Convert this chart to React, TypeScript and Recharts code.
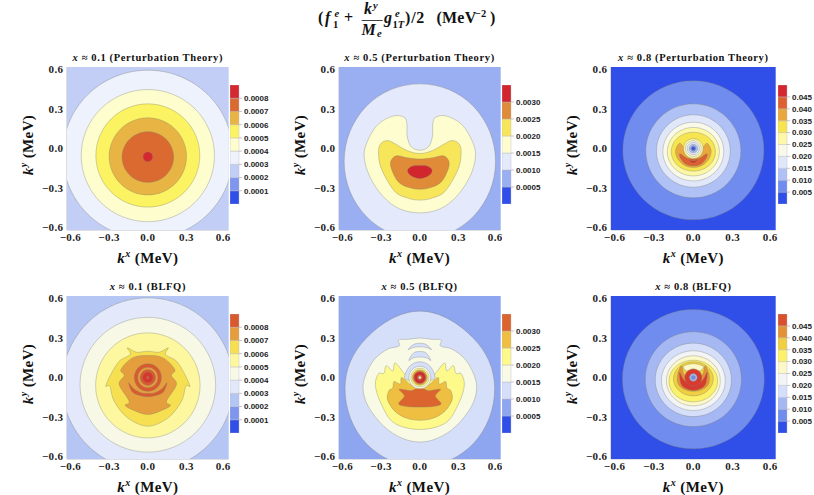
import { Bar, BarChart, Scatter, ScatterChart, XAxis, YAxis } from "recharts";

type Pt = [number, number];
type Contour = [number, Pt[]];

const axisTicks = [-0.6, -0.3, 0, 0.3, 0.6];
const xEdge = 0.627;
const yEdge = 0.619;
const serif = "'Liberation Serif', serif";

// band colours, low to high (an extra last colour is the unresolved core)
const fillsPt01 = ["#2f4fe8", "#7f96ee", "#c2cef6", "#eef2fc", "#fdfdcd", "#fcf362", "#e8b545", "#db6a30", "#d4272f"];
const fillsPt05 = ["#2f4fe8", "#9aaff2", "#e4eafb", "#fdfdcf", "#f7e65a", "#e08b38", "#d2262e"];
const fillsPt08 = ["#2f4fe8", "#708cee", "#afc1f5", "#e0e7fb", "#f8f9e8", "#fdf8a8", "#f7e550", "#e8a83c", "#dc6030", "#d4272f"];
const fillsBl01 = ["#2f4fe8", "#7f96ee", "#b5c5f4", "#e3e9fb", "#f7f9e6", "#fdf8a0", "#f6e052", "#e59e3d", "#d95a2e", "#d8352e"];
const fillsBl05 = ["#2f4fe8", "#8ea5f0", "#d6dffa", "#f8fae6", "#fdf98a", "#eebf40", "#dc652f", "#d4272f"];
const fillsBl08 = ["#2f4fe8", "#708cee", "#a5b8f3", "#d5dffa", "#f2f4f5", "#fcf8c8", "#fbf26a", "#f0d040", "#e39336", "#d8502e", "#d93a2e"];

const levels01 = [0.0001, 0.0002, 0.0003, 0.0004, 0.0005, 0.0006, 0.0007, 0.0008];
const levels05 = [0.0005, 0.001, 0.0015, 0.002, 0.0025, 0.003];
const levels08 = [0.005, 0.01, 0.015, 0.02, 0.025, 0.03, 0.035, 0.04, 0.045];

const cornersSmall: Pt[][] = [
  [[-0.7, 0.7], [-0.565, 0.7], [-0.7, 0.575]],
  [[0.7, 0.7], [0.565, 0.7], [0.7, 0.575]],
];
const cornersTiny: Pt[][] = [
  [[-0.7, 0.7], [-0.59, 0.7], [-0.7, 0.59]],
  [[0.7, 0.7], [0.59, 0.7], [0.7, 0.59]],
];

const contoursPt01: Contour[] = [
  [3, [[0, 0.595], [0.467, 0.408], [0.66, -0.045], [0.467, -0.498], [0, -0.685], [-0.467, -0.498], [-0.66, -0.045], [-0.467, 0.408]]],
  [4, [[0, 0.448], [0.366, 0.301], [0.517, -0.054], [0.366, -0.409], [0, -0.556], [-0.366, -0.409], [-0.517, -0.054], [-0.366, 0.301]]],
  [5, [[0, 0.339], [0.285, 0.224], [0.403, -0.053], [0.285, -0.33], [0, -0.445], [-0.285, -0.33], [-0.403, -0.053], [-0.285, 0.224]]],
  [6, [[0, 0.233], [0.212, 0.147], [0.3, -0.06], [0.212, -0.267], [0, -0.353], [-0.212, -0.267], [-0.3, -0.06], [-0.212, 0.147]]],
  [7, [[0, 0.127], [0.141, 0.071], [0.2, -0.065], [0.141, -0.201], [0, -0.257], [-0.141, -0.201], [-0.2, -0.065], [-0.141, 0.071]]],
  [8, [[0, -0.026], [0.026, -0.037], [0.037, -0.063], [0.026, -0.089], [0, -0.1], [-0.026, -0.089], [-0.037, -0.063], [-0.026, -0.037]]],
];

const contoursPt05: Contour[] = [
  [2, [[0, 0.491], [0.415, 0.321], [0.587, -0.099], [0.415, -0.516], [0, -0.689], [-0.415, -0.516], [-0.587, -0.099], [-0.415, 0.321]]],
  [3, [[0, -0.013], [0.067, 0.013], [0.098, 0.094], [0.101, 0.195], [0.127, 0.24], [0.209, 0.246], [0.326, 0.182], [0.406, 0.056], [0.432, -0.058], [0.39, -0.21], [0.287, -0.362], [0.158, -0.458], [0, -0.489], [-0.158, -0.458], [-0.287, -0.362], [-0.39, -0.21], [-0.432, -0.058], [-0.406, 0.056], [-0.326, 0.182], [-0.209, 0.246], [-0.127, 0.24], [-0.101, 0.195], [-0.098, 0.094], [-0.067, 0.013]]],
  [4, [[0, -0.038], [0.1, -0.015], [0.2, 0.04], [0.25, 0.06], [0.3, 0.04], [0.32, -0.02], [0.3, -0.15], [0.2, -0.32], [0.1, -0.375], [0, -0.392], [-0.1, -0.375], [-0.2, -0.32], [-0.3, -0.15], [-0.32, -0.02], [-0.3, 0.04], [-0.25, 0.06], [-0.2, 0.04], [-0.1, -0.015]]],
  [5, [[0, -0.08], [0.1, -0.07], [0.18, -0.055], [0.222, -0.09], [0.222, -0.15], [0.17, -0.25], [0.09, -0.295], [0, -0.31], [-0.09, -0.295], [-0.17, -0.25], [-0.222, -0.15], [-0.222, -0.09], [-0.18, -0.055], [-0.1, -0.07]]],
  [6, [[0, -0.13], [0.06, -0.135], [0.095, -0.165], [0.07, -0.205], [0, -0.228], [-0.07, -0.205], [-0.095, -0.165], [-0.06, -0.135]]],
];

const contoursPt08: Contour[] = [
  [1, [[0, 0.514], [0.38, 0.359], [0.537, -0.014], [0.38, -0.387], [0, -0.542], [-0.38, -0.387], [-0.537, -0.014], [-0.38, 0.359]]],
  [2, [[0, 0.339], [0.256, 0.234], [0.362, -0.018], [0.256, -0.27], [0, -0.375], [-0.256, -0.27], [-0.362, -0.018], [-0.256, 0.234]]],
  [3, [[0, 0.256], [0.199, 0.175], [0.281, -0.019], [0.199, -0.213], [0, -0.294], [-0.199, -0.213], [-0.281, -0.019], [-0.199, 0.175]]],
  [4, [[0, 0.2], [0.164, 0.135], [0.232, -0.023], [0.164, -0.181], [0, -0.246], [-0.164, -0.181], [-0.232, -0.023], [-0.164, 0.135]]],
  [5, [[0, 0.16], [0.14, 0.106], [0.198, -0.024], [0.14, -0.154], [0, -0.208], [-0.14, -0.154], [-0.198, -0.024], [-0.14, 0.106]]],
  [6, [[0, 0.124], [0.119, 0.081], [0.168, -0.024], [0.119, -0.129], [0, -0.172], [-0.119, -0.129], [-0.168, -0.024], [-0.119, 0.081]]],
  [7, [[0.105, 0.04], [0.135, -0.013], [0.12, -0.076], [0.069, -0.127], [0, -0.144], [-0.069, -0.127], [-0.12, -0.076], [-0.135, -0.013], [-0.105, 0.04], [-0.075, 0.01], [-0.059, -0.013], [-0.033, -0.043], [0, -0.053], [0.033, -0.043], [0.059, -0.013], [0.075, 0.01]]],
  [8, [[0.102, -0.04], [0.1, -0.07], [0.06, -0.118], [0, -0.132], [-0.06, -0.118], [-0.1, -0.07], [-0.102, -0.04], [-0.05, -0.072], [0, -0.08], [0.05, -0.072]]],
  [9, [[0.03, -0.09], [0, -0.108], [-0.03, -0.09], [0, -0.095]]],
  [5, [[0, 0.075], [0.053, 0.053], [0.075, 0], [0.053, -0.053], [0, -0.075], [-0.053, -0.053], [-0.075, 0], [-0.053, 0.053]]],
  [4, [[0, 0.06], [0.042, 0.042], [0.06, 0], [0.042, -0.042], [0, -0.06], [-0.042, -0.042], [-0.06, 0], [-0.042, 0.042]]],
  [3, [[0, 0.047], [0.033, 0.033], [0.047, 0], [0.033, -0.033], [0, -0.047], [-0.033, -0.033], [-0.047, 0], [-0.033, 0.033]]],
  [2, [[0, 0.033], [0.023, 0.023], [0.033, 0], [0.023, -0.023], [0, -0.033], [-0.023, -0.023], [-0.033, 0], [-0.023, 0.023]]],
  [1, [[0, 0.02], [0.02, 0], [0, -0.02], [-0.02, 0]]],
  [0, [[0, 0.012], [0.012, 0], [0, -0.012], [-0.012, 0]]],
];

const contoursBl01: Contour[] = [
  [3, [[0, 0.605], [0.47, 0.413], [0.665, -0.05], [0.47, -0.513], [0, -0.705], [-0.47, -0.513], [-0.665, -0.05], [-0.47, 0.413]]],
  [4, [[0, 0.457], [0.372, 0.307], [0.526, -0.055], [0.372, -0.417], [0, -0.567], [-0.372, -0.417], [-0.526, -0.055], [-0.372, 0.307]]],
  [5, [[0, 0.339], [0.286, 0.222], [0.405, -0.06], [0.286, -0.342], [0, -0.459], [-0.286, -0.342], [-0.405, -0.06], [-0.286, 0.222]]],
  [6, [[0, 0.2], [0.088, 0.192], [0.158, 0.225], [0.137, 0.175], [0.222, 0.124], [0.287, 0.023], [0.326, -0.066], [0.295, -0.066], [0.261, -0.18], [0.158, -0.306], [0, -0.37], [-0.158, -0.306], [-0.261, -0.18], [-0.295, -0.066], [-0.326, -0.066], [-0.287, 0.023], [-0.222, 0.124], [-0.137, 0.175], [-0.158, 0.225], [-0.088, 0.192]]],
  [7, [[0, 0.167], [0.119, 0.149], [0.209, 0.061], [0.183, 0.015], [0.222, -0.053], [0.145, -0.18], [0.176, -0.213], [0.093, -0.256], [0, -0.281], [-0.093, -0.256], [-0.176, -0.213], [-0.145, -0.18], [-0.222, -0.053], [-0.183, 0.015], [-0.209, 0.061], [-0.119, 0.149]]],
  [8, [[0, 0.105], [0.074, 0.074], [0.105, 0], [0.074, -0.074], [0, -0.105], [-0.074, -0.074], [-0.105, 0], [-0.074, 0.074]]],
  [8, [[0.149, -0.04], [0.12, -0.11], [0.06, -0.137], [0, -0.146], [-0.06, -0.137], [-0.12, -0.11], [-0.149, -0.04], [-0.11, -0.085], [-0.055, -0.115], [0, -0.122], [0.055, -0.115], [0.11, -0.085]]],
  [7, [[0, 0.078], [0.055, 0.055], [0.078, 0], [0.055, -0.055], [0, -0.078], [-0.055, -0.055], [-0.078, 0], [-0.055, 0.055]]],
  [8, [[0, 0.06], [0.042, 0.042], [0.06, 0], [0.042, -0.042], [0, -0.06], [-0.042, -0.042], [-0.06, 0], [-0.042, 0.042]]],
  [9, [[0, 0.04], [0.028, 0.028], [0.04, 0], [0.028, -0.028], [0, -0.04], [-0.028, -0.028], [-0.04, 0], [-0.028, 0.028]]],
  [8, [[0, 0.012], [0.012, 0], [0, -0.012], [-0.012, 0]]],
];

const contoursBl05: Contour[] = [
  [2, [[0, 0.504], [0.414, 0.3], [0.58, -0.086], [0.414, -0.503], [0, -0.676], [-0.414, -0.503], [-0.58, -0.086], [-0.414, 0.3]]],
  [3, [[0, 0.3], [0.09, 0.29], [0.165, 0.285], [0.16, 0.24], [0.25, 0.215], [0.35, 0.14], [0.42, 0.02], [0.44, -0.09], [0.4, -0.22], [0.28, -0.37], [0.14, -0.46], [0, -0.49], [-0.14, -0.46], [-0.28, -0.37], [-0.4, -0.22], [-0.44, -0.09], [-0.42, 0.02], [-0.35, 0.14], [-0.25, 0.215], [-0.16, 0.24], [-0.165, 0.285], [-0.09, 0.29]]],
  [2, [[-0.09, 0.212], [-0.05, 0.25], [0, 0.26], [0.05, 0.25], [0.09, 0.212], [0.05, 0.228], [0, 0.233], [-0.05, 0.228]]],
  [2, [[-0.085, 0.13], [-0.05, 0.185], [0, 0.197], [0.05, 0.185], [0.085, 0.13], [0.05, 0.15], [0, 0.155], [-0.05, 0.15]]],
  [4, [[0, -0.02], [0.09, 0.02], [0.12, 0.03], [0.19, 0.11], [0.21, 0.05], [0.26, 0.09], [0.28, 0.03], [0.32, 0.03], [0.345, -0.06], [0.3, -0.2], [0.2, -0.345], [0, -0.395], [-0.2, -0.345], [-0.3, -0.2], [-0.345, -0.06], [-0.32, 0.03], [-0.28, 0.03], [-0.26, 0.09], [-0.21, 0.05], [-0.19, 0.11], [-0.12, 0.03], [-0.09, 0.02]]],
  [5, [[0, -0.03], [0.06, -0.06], [0.14, 0], [0.15, -0.05], [0.2, -0.03], [0.21, -0.08], [0.24, -0.1], [0.25, -0.17], [0.19, -0.26], [0.1, -0.31], [0, -0.325], [-0.1, -0.31], [-0.19, -0.26], [-0.25, -0.17], [-0.24, -0.1], [-0.21, -0.08], [-0.2, -0.03], [-0.15, -0.05], [-0.14, 0], [-0.06, -0.06]]],
  [6, [[0, -0.08], [0.04, -0.09], [0.07, -0.1], [0.16, -0.09], [0.12, -0.14], [0.165, -0.2], [0.1, -0.22], [0, -0.225], [-0.1, -0.22], [-0.165, -0.2], [-0.12, -0.14], [-0.16, -0.09], [-0.07, -0.1], [-0.04, -0.09]]],
  [2, [[-0.115, -0.01], [-0.08, 0.085], [0, 0.12], [0.08, 0.085], [0.115, -0.01], [0, -0.02]]],
  [3, [[0, 0.085], [0.06, 0.06], [0.085, 0], [0.06, -0.06], [0, -0.085], [-0.06, -0.06], [-0.085, 0], [-0.06, 0.06]]],
  [4, [[0, 0.07], [0.05, 0.05], [0.07, 0], [0.05, -0.05], [0, -0.07], [-0.05, -0.05], [-0.07, 0], [-0.05, 0.05]]],
  [5, [[0, 0.058], [0.041, 0.041], [0.058, 0], [0.041, -0.041], [0, -0.058], [-0.041, -0.041], [-0.058, 0], [-0.041, 0.041]]],
  [6, [[0, 0.05], [0.035, 0.035], [0.05, 0], [0.035, -0.035], [0, -0.05], [-0.035, -0.035], [-0.05, 0], [-0.035, 0.035]]],
  [7, [[0, 0.042], [0.03, 0.03], [0.042, 0], [0.03, -0.03], [0, -0.042], [-0.03, -0.03], [-0.042, 0], [-0.03, 0.03]]],
  [6, [[0, 0.02], [0.02, 0], [0, -0.02], [-0.02, 0]]],
  [3, [[0, 0.01], [0.01, 0], [0, -0.01], [-0.01, 0]]],
];

const contoursBl08: Contour[] = [
  [1, [[0, 0.516], [0.382, 0.361], [0.54, -0.013], [0.382, -0.387], [0, -0.542], [-0.382, -0.387], [-0.54, -0.013], [-0.382, 0.361]]],
  [2, [[0, 0.347], [0.259, 0.242], [0.366, -0.013], [0.259, -0.268], [0, -0.373], [-0.259, -0.268], [-0.366, -0.013], [-0.259, 0.242]]],
  [3, [[0, 0.261], [0.205, 0.179], [0.29, -0.018], [0.205, -0.215], [0, -0.297], [-0.205, -0.215], [-0.29, -0.018], [-0.205, 0.179]]],
  [4, [[0, 0.203], [0.172, 0.136], [0.243, -0.024], [0.172, -0.184], [0, -0.251], [-0.172, -0.184], [-0.243, -0.024], [-0.172, 0.136]]],
  [5, [[0, 0.165], [0.145, 0.109], [0.205, -0.025], [0.145, -0.159], [0, -0.215], [-0.145, -0.159], [-0.205, -0.025], [-0.145, 0.109]]],
  [6, [[0, 0.131], [0.131, 0.085], [0.185, -0.027], [0.131, -0.139], [0, -0.185], [-0.131, -0.139], [-0.185, -0.027], [-0.131, 0.085]]],
  [7, [[0, 0.12], [0.107, 0.082], [0.152, -0.01], [0.107, -0.102], [0, -0.14], [-0.107, -0.102], [-0.152, -0.01], [-0.107, 0.082]]],
  [5, [[-0.075, 0.085], [0, 0.105], [0.075, 0.085], [0.05, 0.05], [0, 0.065], [-0.05, 0.05]]],
  [8, [[0.09, 0.09], [0.12, 0.02], [0.115, -0.05], [0.07, -0.09], [0, -0.105], [-0.07, -0.09], [-0.115, -0.05], [-0.12, 0.02], [-0.09, 0.09], [-0.075, 0.03], [-0.05, 0], [0, -0.02], [0.05, 0], [0.075, 0.03]]],
  [10, [[0.105, 0.04], [0.095, -0.045], [0.06, -0.082], [0, -0.098], [-0.06, -0.082], [-0.095, -0.045], [-0.105, 0.04], [-0.07, -0.02], [0, -0.06], [0.07, -0.02]]],
  [10, [[0, 0.065], [0.046, 0.046], [0.065, 0], [0.046, -0.046], [0, -0.065], [-0.046, -0.046], [-0.065, 0], [-0.046, 0.046]]],
  [2, [[0, 0.03], [0.021, 0.021], [0.03, 0], [0.021, -0.021], [0, -0.03], [-0.021, -0.021], [-0.03, 0], [-0.021, 0.021]]],
  [1, [[0, 0.015], [0.015, 0], [0, -0.015], [-0.015, 0]]],
];

const baseSquare: Pt[] = [[-0.7, -0.7], [0.7, -0.7], [0.7, 0.7], [-0.7, 0.7]];

// closed Catmull-Rom through the contour points, rounder handles when there are few points
function smoothPath(points: { x: number; y: number }[]) {
  const n = points.length;
  const k = n === 4 ? 3.6 : n === 8 ? 5.33 : 6;
  let d = `M${points[0].x},${points[0].y}`;
  for (let i = 0; i < n; i++) {
    const p0 = points[(i - 1 + n) % n];
    const p1 = points[i];
    const p2 = points[(i + 1) % n];
    const p3 = points[(i + 2) % n];
    d += `C${p1.x + (p2.x - p0.x) / k},${p1.y + (p2.y - p0.y) / k} ${p2.x - (p3.x - p1.x) / k},${p2.y - (p3.y - p1.y) / k} ${p2.x},${p2.y}`;
  }
  return d + "Z";
}

function sharpPath(points: { x: number; y: number }[]) {
  return "M" + points.map((p) => `${p.x},${p.y}`).join("L") + "Z";
}

function contourSeries(pts: Pt[], fill: string, key: string, sharp = false) {
  return (
    <Scatter
      key={key}
      data={pts.map(([x, y]) => ({ x, y }))}
      dataKey="y"
      isAnimationActive={false}
      shape={() => null}
      line={(props: any) => (
        <path
          d={sharp ? sharpPath(props.points) : smoothPath(props.points)}
          fill={fill}
          stroke={sharp ? "none" : "#7d7d70"}
          strokeOpacity={0.5}
          strokeWidth={0.7}
        />
      )}
    />
  );
}

const tickFont = { fontSize: 11, fontWeight: 700, fontFamily: serif, fill: "#222", letterSpacing: 0.4 };

function formatTick(v: number) {
  return v < 0 ? `\u2212${Math.abs(v).toFixed(1)}` : v.toFixed(1);
}

function Panel(props: {
  x: number;
  y: number;
  w: number;
  title: string;
  xValue: string;
  base: number;
  fills: string[];
  contours: Contour[];
  corners?: Pt[][];
  cornerBand?: number;
}) {
  const { x, y, w, title, xValue, base, fills, contours, corners, cornerBand } = props;
  const h = 163;
  const left = 62;
  const top = 4;
  const bottom = 45;
  const labelFont = { position: "absolute" as const, fontFamily: serif, fontWeight: 700, whiteSpace: "nowrap" as const, color: "#111" };
  return (
    <>
      <div style={{ position: "absolute", left: x - left, top: y - top }}>
        <ScatterChart width={left + w + 2} height={top + h + bottom} margin={{ top, right: 2, bottom: 0, left: 0 }}>
          {contourSeries(baseSquare, fills[base], "base", true)}
          {(corners ?? []).map((c, i) => contourSeries(c, fills[cornerBand ?? 0], `corner${i}`, true))}
          {contours.map(([band, pts], i) => contourSeries(pts, fills[band], `c${i}`))}
          <XAxis type="number" dataKey="x" domain={[-xEdge, xEdge]} ticks={axisTicks} allowDataOverflow height={bottom} tick={tickFont} tickFormatter={formatTick} tickSize={-2.5} tickMargin={6} stroke="#a9adb5" strokeWidth={0.8} />
          <YAxis type="number" dataKey="y" domain={[-yEdge, yEdge]} ticks={axisTicks} allowDataOverflow width={left} tick={tickFont} tickFormatter={formatTick} tickSize={-2.5} tickMargin={6} stroke="#a9adb5" strokeWidth={0.8} />
          <XAxis xAxisId="top" orientation="top" type="number" dataKey="x" domain={[-xEdge, xEdge]} ticks={axisTicks} allowDataOverflow height={0} tick={false} tickSize={-2.5} stroke="#a9adb5" strokeWidth={0.8} />
          <YAxis yAxisId="right" orientation="right" type="number" dataKey="y" domain={[-yEdge, yEdge]} ticks={axisTicks} allowDataOverflow width={0} tick={false} tickSize={-2.5} stroke="#a9adb5" strokeWidth={0.8} />
        </ScatterChart>
      </div>
      <div style={{ ...labelFont, left: x + w / 2, top: y - 10, transform: "translate(-50%,-50%)", fontSize: 10.5, letterSpacing: 0.62 }}>
        <i>x</i> ≈ {xValue} ({title})
      </div>
      <div style={{ ...labelFont, left: x + w / 2, top: y + h + 28, transform: "translate(-50%,-50%)", fontSize: 15, letterSpacing: 0.4 }}>
        <i>k</i>
        <sup style={{ fontSize: 10, fontStyle: "italic", lineHeight: 0 }}>x</sup> (MeV)
      </div>
      <div style={{ ...labelFont, left: x - 39, top: y + h / 2 - 4, transform: "translate(-50%,-50%) rotate(-90deg)", fontSize: 15, letterSpacing: 0.4 }}>
        <i>k</i>
        <sup style={{ fontSize: 10, fontStyle: "italic", lineHeight: 0 }}>y</sup> (MeV)
      </div>
    </>
  );
}

function ColorBar(props: { x: number; y: number; levels: number[]; step: number; digits: number; fills: string[] }) {
  const { x, y, levels, step, digits, fills } = props;
  const row: Record<string, number | string> = { name: "bar" };
  const bands = levels.length + 1;
  for (let i = 0; i < bands; i++) row[`b${i}`] = step;
  return (
    <div style={{ position: "absolute", left: x, top: y }}>
      <BarChart width={54} height={119} data={[row]} margin={{ top: 0, right: 0, bottom: 0, left: 0 }} barCategoryGap={0}>
        <XAxis dataKey="name" hide />
        <YAxis
          orientation="right"
          type="number"
          domain={[0, step * bands]}
          ticks={levels}
          interval={0}
          width={45}
          axisLine={false}
          tickSize={3}
          tickMargin={2}
          tickLine={{ stroke: "#a9adb5", strokeWidth: 0.7 }}
          tick={{ fontSize: 8, fontWeight: 700, fontFamily: "'Liberation Sans', sans-serif", fill: "#222" }}
          tickFormatter={(v: number) => v.toFixed(digits)}
        />
        {Array.from({ length: bands }, (_, i) => (
          <Bar key={i} dataKey={`b${i}`} stackId="bar" fill={fills[i]} stroke="#b5b8bf" strokeWidth={0.4} isAnimationActive={false} />
        ))}
      </BarChart>
    </div>
  );
}

function MainTitle() {
  const text = { fontFamily: serif, fontWeight: 700, fill: "#111" };
  return (
    <svg width={814} height={44} style={{ position: "absolute", left: 0, top: 0 }}>
      <g {...text} fontSize={16}>
        <text x={318} y={23}>(</text>
        <text x={325} y={23} fontStyle="italic">f</text>
        <text x={334.5} y={17} fontSize={10.5} fontStyle="italic">e</text>
        <text x={333} y={28} fontSize={10.5}>1</text>
        <text x={344} y={23}>+</text>
        <text x={364} y={14} fontStyle="italic">k</text>
        <text x={373} y={9} fontSize={10.5} fontStyle="italic">y</text>
        <text x={361.5} y={34.5} fontStyle="italic">M</text>
        <text x={377} y={36.5} fontSize={10.5} fontStyle="italic">e</text>
        <text x={384} y={23} fontStyle="italic">g</text>
        <text x={395} y={17} fontSize={10.5} fontStyle="italic">e</text>
        <text x={392.5} y={28} fontSize={10.5}>1<tspan fontStyle="italic">T</tspan></text>
        <text x={405} y={23} letterSpacing={0.8}>)/2</text>
        <text x={436.5} y={23} letterSpacing={0.2}>(MeV</text>
        <text x={475} y={17} fontSize={10.5}>−2</text>
        <text x={490} y={23}>)</text>
      </g>
      <line x1={361.7} x2={382.7} y1={20.5} y2={20.5} stroke="#111" strokeWidth={0.8} />
    </svg>
  );
}

export default function App() {
  return (
    <div style={{ position: "absolute", left: 0, top: 0, width: 814, height: 495, background: "#fff", overflow: "hidden" }}>
      <MainTitle />
      <Panel x={67} y={67.3} w={161.7} title="Perturbation Theory" xValue="0.1" base={2} fills={fillsPt01} contours={contoursPt01} corners={cornersSmall} cornerBand={1} />
      <Panel x={338.7} y={67.3} w={161.7} title="Perturbation Theory" xValue="0.5" base={1} fills={fillsPt05} contours={contoursPt05} corners={cornersTiny} cornerBand={0} />
      <Panel x={611} y={67.3} w={164.7} title="Perturbation Theory" xValue="0.8" base={0} fills={fillsPt08} contours={contoursPt08} />
      <Panel x={67} y={296.3} w={161.7} title="BLFQ" xValue="0.1" base={2} fills={fillsBl01} contours={contoursBl01} corners={cornersSmall} cornerBand={1} />
      <Panel x={338.7} y={296.3} w={161.7} title="BLFQ" xValue="0.5" base={1} fills={fillsBl05} contours={contoursBl05} corners={cornersTiny} cornerBand={0} />
      <Panel x={611} y={296.3} w={164.7} title="BLFQ" xValue="0.8" base={0} fills={fillsBl08} contours={contoursBl08} />
      <ColorBar x={230.3} y={85.3} levels={levels01} step={0.0001} digits={4} fills={fillsPt01} />
      <ColorBar x={502.3} y={85.3} levels={levels05} step={0.0005} digits={4} fills={fillsPt05} />
      <ColorBar x={777.7} y={85.3} levels={levels08} step={0.005} digits={3} fills={fillsPt08} />
      <ColorBar x={230.3} y={314.3} levels={levels01} step={0.0001} digits={4} fills={fillsBl01} />
      <ColorBar x={502.3} y={314.3} levels={levels05} step={0.0005} digits={4} fills={fillsBl05} />
      <ColorBar x={777.7} y={314.3} levels={levels08} step={0.005} digits={3} fills={fillsBl08} />
    </div>
  );
}
